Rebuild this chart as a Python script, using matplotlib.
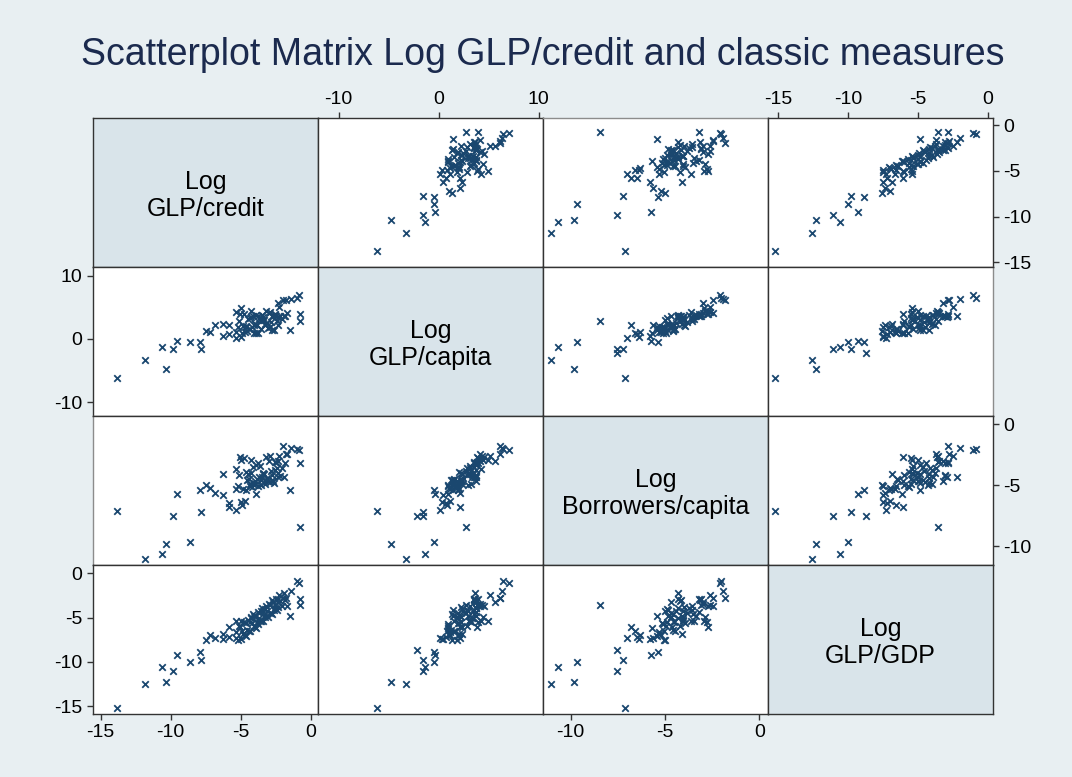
import numpy as np
import matplotlib.pyplot as plt

plt.rcParams['font.family'] = ['Liberation Sans', 'DejaVu Sans']
plt.rcParams['axes.unicode_minus'] = False

nan = np.nan
labels = ["Log\nGLP/credit", "Log\nGLP/capita", "Log\nBorrowers/capita", "Log\nGLP/GDP"]

# one entry per country: log GLP/credit, log GLP/capita, log borrowers/capita, log GLP/GDP
credit = [-13.8, -11.85, -10.64, -10.36, -9.84, -9.52, -8.59, -7.88, -7.81, -0.73, -0.73, nan,
          -7.45, -7.21, -6.85, -6.26, -6.26, -5.83, -5.83, -5.35, -5.35, -5.0,
          -2.33, -1.98, -1.74, -1.38, -0.97, -0.83, -1.49, -1.66,
          -5.32, -5.17, -5.08, -4.96, -5.04, -4.88, -4.83, -4.76, -4.71, -4.58,
          -4.63, -4.47, -4.52, -4.36, -4.43, -4.27, -4.33, -4.18, -4.24, -4.06,
          -4.12, -3.97, -4.03, -3.88, -3.93, -3.77, -3.84, -3.66, -3.73, -3.57,
          -3.62, -3.46, -3.54, -3.38, -3.43, -3.27, -3.34, -3.16, -3.23, -3.08,
          -2.96, -3.04, -2.87, -2.93, -2.77, -2.84, -2.68, -2.74, -2.57, -2.63,
          -2.47, -2.54, -2.36, -2.43, -2.27, -2.34, -2.18, -2.03, -1.88, -1.82]
capita = [-6.16, -3.27, -1.32, -4.74, -1.53, -0.37, -0.42, -0.47, -1.53, 2.79, 3.95, -2.15,
          1.31, 1.05, 2.16, 2.37, 0.42, 2.16, 0.79, 0.16, 4.27, 4.9,
          5.69, 6.11, 6.11, 6.37, 6.48, 7.0, 1.47, 4.1,
          1.15, 1.84, 2.8, 0.37, 3.88, 0.88, 2.08, 3.91, 1.10, 2.05,
          1.92, 3.14, 1.25, 3.24, 1.55, 4.46, 1.60, 1.97, 3.46, 0.98,
          3.58, 2.32, 2.19, 3.74, 0.94, 3.71, 2.22, 3.37, 0.90, 2.96,
          3.15, 3.79, 1.58, 3.44, 3.05, 2.38, 2.97, 4.50, 2.23, 2.48,
          4.14, 1.80, 4.32, 1.92, 3.71, 2.74, 3.70, 1.36, 3.87, 1.46,
          3.58, 3.78, 3.50, 2.85, 5.1, 2.25, 3.66, 3.10, 3.67, 3.58]
borrowers = [-7.12, -11.04, -10.68, -9.81, -7.54, -5.75, -9.67, -5.37, -7.2, -8.46, -3.18, -7.54,
             -5.01, -5.23, -5.65, -4.11, -5.78, -6.8, -6.5, -7.01, -3.65, -2.96,
             -3.0, -1.81, -2.47, -1.95, -2.02, -2.08, -5.43, -2.46,
             -5.34, -5.07, -4.2, -6.4, -2.7, -6.6, -5.3, -2.8, -6.3, -3.92,
             -5.41, -4.07, -4.57, -4.89, -4.46, -2.9, -5.03, -5.18, -4.04, -4.96,
             -3.5, -4.63, -4.82, -3.35, -5.69, -3.2, -4.5, -4.3, -5.11, -4.99,
             -3.46, -4.32, -4.55, -4.06, -4.03, -4.89, -4.08, -2.7, -4.7, -4.43,
             -3.0, -4.69, -2.6, -4.71, -4.17, -3.85, -4.68, -4.6, -3.1, -4.83,
             -3.1, -3.72, -4.31, -3.56, -2.6, -3.98, -4.21, -3.59, -4.3, -3.16]
gdp = [-15.2, -12.55, -10.59, -12.28, -11.04, -9.27, -9.98, -8.86, -9.8, -3.58, -2.87, -8.7,
       -7.54, -6.97, -7.35, -6.82, -7.46, -6.03, -7.2, -7.27, -5.4, -5.39,
       -3.2, -2.83, -2.75, -2.0, -0.87, -1.06, -4.82, -3.7,
       -6.64, -7.52, -5.99, -7.46, -6.06, -6.53, -6.9, -5.5, -6.98, -5.65,
       -7.05, -5.32, -6.42, -5.49, -6.49, -4.96, -6.56, -5.64, -5.04, -6.01,
       -4.61, -6.08, -4.88, -4.85, -6.15, -4.42, -5.52, -5.0, -5.7, -4.27,
       -5.37, -3.94, -5.34, -4.21, -5.41, -3.98, -4.88, -3.66, -4.96, -4.23,
       -3.5, -4.9, -3.57, -4.47, -3.04, -4.54, -3.22, -4.62, -3.59, -4.19,
       -2.86, -3.96, -2.93, -4.13, -2.5, -3.8, -3.08, -3.72, -2.19, -3.06]

ticks = [[-15, -10, -5, 0], [-10, 0, 10], [-10, -5, 0], [-15, -10, -5, 0]]

data = [np.array(credit), np.array(capita), np.array(borrowers), np.array(gdp)]

W, H = 1072, 777
fig = plt.figure(figsize=(W / 100, H / 100), dpi=100, facecolor='#e8eff2')

# panel grid in pixels
col_x = [93, 318, 543, 768, 993]
row_y = [118, 267, 416, 565, 714]
xlims = [(-15.54, 0.53), (-12.05, 10.45), (-11.46, 0.45), (-15.7, 0.36)]
ylims = [(-15.52, 0.77), (-12.16, 11.37), (-11.56, 0.68), (-15.9, 0.94)]

dark = '#333333'
light = '#8c8c8c'

for i in range(4):
    for j in range(4):
        ax = fig.add_axes([col_x[j] / W, 1 - row_y[i + 1] / H,
                           (col_x[j + 1] - col_x[j]) / W, (row_y[i + 1] - row_y[i]) / H])
        ax.set_xlim(xlims[j])
        ax.set_ylim(ylims[i])
        ax.set_xticks([])
        ax.set_yticks([])
        for s in ax.spines.values():
            s.set_color(dark)
            s.set_linewidth(1.0)
        if i == j:
            ax.set_facecolor('#d9e4ea')
            ax.text(0.5, 0.48, labels[i], transform=ax.transAxes, ha='center', va='center',
                    fontsize=18, linespacing=1.12, color='black')
        else:
            ax.set_facecolor('white')
            ax.scatter(data[j], data[i], marker='x', s=22, linewidths=1.3, color='#1a476f')

        tick_kw = dict(direction='out', length=4.5, width=1, colors=dark,
                       labelsize=14, labelcolor='black', pad=3)
        if i == 0 and j in (1, 3):
            ax.xaxis.tick_top()
            ax.set_xticks(ticks[j])
            ax.tick_params(axis='x', **tick_kw)
        if i == 3 and j in (0, 2):
            ax.set_xticks(ticks[j])
            ax.tick_params(axis='x', **tick_kw)
        if j == 0 and i in (1, 3):
            ax.set_yticks(ticks[i])
            ax.tick_params(axis='y', **tick_kw)
        if j == 3 and i in (0, 2):
            ax.yaxis.tick_right()
            ax.set_yticks(ticks[i])
            ax.tick_params(axis='y', **tick_kw)

        # outer edges without an axis are drawn lighter
        if i == 0 and j == 2:
            ax.spines['top'].set_color(light)
        if j == 0 and i == 2:
            ax.spines['left'].set_color(light)
        if j == 3 and i == 1:
            ax.spines['right'].set_color(light)

fig.text(0.506, 0.929, "Scatterplot Matrix Log GLP/credit and classic measures",
         ha='center', va='center', fontsize=27, color='#1b2a4e')

fig.savefig('out.png', dpi=100, facecolor=fig.get_facecolor())
